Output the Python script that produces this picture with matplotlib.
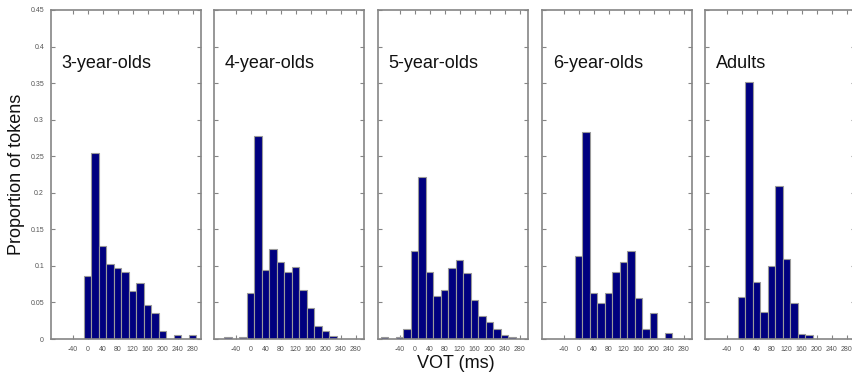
import matplotlib
matplotlib.use("Agg")
import matplotlib.pyplot as plt
import numpy as np

plt.rcParams["font.family"] = ["Liberation Sans", "DejaVu Sans"]

# bin centres (ms), 20 ms wide bins
bin_centers = [-80, -60, -40, -20, 0, 20, 40, 60, 80, 100, 120, 140, 160,
               180, 200, 220, 240, 260, 280]

groups = ["3-year-olds", "4-year-olds", "5-year-olds", "6-year-olds", "Adults"]

props_3yo = [0, 0, 0, 0, 0.086, 0.254, 0.127, 0.102, 0.097, 0.091, 0.066,
             0.076, 0.046, 0.036, 0.0105, 0, 0.005, 0, 0.005]
props_4yo = [0, 0.003, 0, 0.003, 0.063, 0.278, 0.095, 0.123, 0.105, 0.091,
             0.098, 0.067, 0.042, 0.018, 0.0105, 0.004, 0, 0, 0]
props_5yo = [0.0023, 0, 0.003, 0.013, 0.121, 0.222, 0.092, 0.059, 0.067,
             0.097, 0.108, 0.090, 0.054, 0.0315, 0.023, 0.013, 0.0055, 0.003, 0]
props_6yo = [0, 0, 0, 0, 0.113, 0.283, 0.063, 0.049, 0.063, 0.092, 0.105,
             0.120, 0.056, 0.014, 0.035, 0, 0.008, 0, 0]
props_adults = [0, 0, 0, 0, 0.058, 0.351, 0.078, 0.037, 0.100, 0.209, 0.109,
                0.049, 0.007, 0.005, 0, 0, 0, 0, 0]

all_props = [props_3yo, props_4yo, props_5yo, props_6yo, props_adults]

x_ticks = [-40, 0, 40, 80, 120, 160, 200, 240, 280]
y_ticks = [0, 0.05, 0.1, 0.15, 0.2, 0.25, 0.3, 0.35, 0.4, 0.45]
y_tick_labels = ["0", "0.05", "0.1", "0.15", "0.2", "0.25", "0.3", "0.35",
                 "0.4", "0.45"]

W, H = 853, 377
fig = plt.figure(figsize=(W / 100, H / 100), dpi=100)

panel_left_px = [51, 214, 378, 542, 705]
top_px, bottom_px, width_px = 10, 339, 150
spine_col = "#858585"

for i, (name, props) in enumerate(zip(groups, all_props)):
    ax = fig.add_axes([panel_left_px[i] / W, 1 - bottom_px / H,
                       width_px / W, (bottom_px - top_px) / H])
    x = np.array(bin_centers)
    y = np.array(props)
    keep = y > 0
    ax.bar(x[keep], y[keep], width=20, color="#00007f",
           edgecolor="#9a9a9a", linewidth=0.8)
    ax.set_xlim(-98, 302)
    ax.set_ylim(0, 0.45)
    ax.set_axisbelow(True)
    ax.set_xticks(x_ticks)
    ax.set_xticklabels([str(t) for t in x_ticks])
    ax.set_yticks(y_ticks)
    if i == 0:
        ax.set_yticklabels(y_tick_labels)
    else:
        ax.set_yticklabels([])
    ax.tick_params(direction="in", length=3, width=0.8, color=spine_col,
                   top=True, right=True, labelsize=5, labelcolor="#555555",
                   pad=5)
    for s in ax.spines.values():
        s.set_color(spine_col)
        s.set_linewidth(1.2)
    ax.text(0.071, 0.838, name, transform=ax.transAxes, fontsize=13,
            ha="left", va="center", color="#111111")

fig.text(17 / W, 1 - 174 / H, "Proportion of tokens", rotation=90,
         fontsize=13, ha="center", va="center", color="#111111")
fig.text(456 / W, 1 - 364 / H, "VOT (ms)", fontsize=13,
         ha="center", va="center", color="#111111")

fig.savefig("out.png", dpi=100)
